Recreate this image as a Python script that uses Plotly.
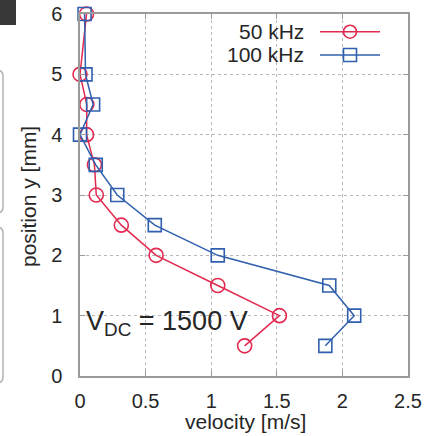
import plotly.graph_objects as go

# ---- data ----
position_mm = [6, 5, 4.5, 4, 3.5, 3, 2.5, 2, 1.5, 1, 0.5]
vel_50khz = [0.05, 0.0, 0.052, 0.05, 0.11, 0.124, 0.315, 0.58, 1.05, 1.52, 1.255]
vel_100khz = [0.035, 0.042, 0.10, 0.0, 0.12, 0.284, 0.57, 1.05, 1.90, 2.09, 1.87]
series_names = ["50 kHz", "100 kHz"]
x_ticks = [0, 0.5, 1, 1.5, 2, 2.5]
x_tick_text = ["0", "0.5", "1", "1.5", "2", "2.5"]
y_ticks = [0, 1, 2, 3, 4, 5, 6]

RED = "#e2294f"
BLUE = "#2f5fad"
TXT = "#262626"
AX = "#9a9a9a"
FONT = "Liberation Sans, Arial, sans-serif"

W, H = 430, 436
ML, MR, MT, MB = 80, 22, 14, 60
PW, PH = W - ML - MR, H - MT - MB


def px(x):
    return (x - ML) / PW


def py(y):
    return (H - MB - y) / PH


fig = go.Figure()
fig.add_trace(go.Scatter(
    x=vel_50khz, y=position_mm, name=series_names[0], mode="lines+markers",
    line=dict(color=RED, width=1.5),
    marker=dict(symbol="circle-open", size=14, color=RED, line=dict(width=1.6)),
    cliponaxis=False, showlegend=False))
fig.add_trace(go.Scatter(
    x=vel_100khz, y=position_mm, name=series_names[1], mode="lines+markers",
    line=dict(color=BLUE, width=1.5),
    marker=dict(symbol="square-open", size=13, color=BLUE, line=dict(width=1.6)),
    cliponaxis=False, showlegend=False))

axis_common = dict(
    showline=True, linecolor=AX, linewidth=1.5, mirror="ticks",
    ticks="inside", ticklen=5, tickcolor=AX, tickwidth=1,
    showgrid=True, gridcolor="#b8b8b8", griddash="dot", gridwidth=1,
    zeroline=False, tickfont=dict(family=FONT, size=20, color=TXT),
)
fig.update_xaxes(range=[0, 2.5], tickvals=x_ticks, ticktext=x_tick_text,
                 ticklabelstandoff=6, **axis_common)
fig.update_yaxes(range=[0, 6], tickvals=y_ticks, ticklabelstandoff=12,
                 **axis_common)

shapes = []
anns = []
# legend (text on the left, sample on the right)
for name, color, sym, yy in [(series_names[0], RED, "circle", 31.7),
                              (series_names[1], BLUE, "square", 55)]:
    shapes.append(dict(type="line", xref="paper", yref="paper",
                       x0=px(320), x1=px(380), y0=py(yy), y1=py(yy),
                       line=dict(color=color, width=1.5)))
    r = 6.5
    shapes.append(dict(type="circle" if sym == "circle" else "rect",
                       xref="paper", yref="paper",
                       xsizemode="pixel", ysizemode="pixel",
                       xanchor=px(350), yanchor=py(yy),
                       x0=-r, x1=r, y0=-r, y1=r,
                       line=dict(color=color, width=1.6),
                       fillcolor="rgba(0,0,0,0)"))
    anns.append(dict(text=name, xref="paper", yref="paper", x=px(306), y=py(yy),
                     xanchor="right", yanchor="middle", showarrow=False,
                     font=dict(family=FONT, size=21, color=TXT)))

# axis titles
anns.append(dict(text="velocity [m/s]", xref="paper", yref="paper",
                 x=px(245), y=py(421), xanchor="center", yanchor="middle",
                 showarrow=False, font=dict(family=FONT, size=21, color=TXT)))
anns.append(dict(text="position y [mm]", xref="paper", yref="paper",
                 x=px(28), y=py(197), xanchor="center", yanchor="middle",
                 textangle=-90, showarrow=False,
                 font=dict(family=FONT, size=21, color=TXT)))
# in-plot label
anns.append(dict(text="V<sub>DC</sub> = 1500 V", xref="paper", yref="paper",
                 x=px(84), y=py(323), xanchor="left", yanchor="middle",
                 showarrow=False, font=dict(family=FONT, size=27, color=TXT)))

# decorative page fragments at the left edge
shapes.append(dict(type="rect", xref="paper", yref="paper", layer="above",
                   x0=px(-2), x1=px(16), y0=py(-2), y1=py(25),
                   fillcolor="#383838", line=dict(width=0)))


def rrect(x0, x1, y0, y1, r):
    return (f"M {px(x0)},{py(y0)} L {px(x1 - r)},{py(y0)} "
            f"Q {px(x1)},{py(y0)} {px(x1)},{py(y0 + r)} "
            f"L {px(x1)},{py(y1 - r)} Q {px(x1)},{py(y1)} {px(x1 - r)},{py(y1)} "
            f"L {px(x0)},{py(y1)}")


for (a, b) in [(70, 213), (227, 383)]:
    shapes.append(dict(type="path", xref="paper", yref="paper",
                       path=rrect(-10, 3, a, b, 6),
                       line=dict(color="#b4b4b4", width=1.5)))

fig.update_layout(
    width=W, height=H, margin=dict(l=ML, r=MR, t=MT, b=MB, autoexpand=False),
    paper_bgcolor="white", plot_bgcolor="white",
    shapes=shapes, annotations=anns, showlegend=False,
    font=dict(family=FONT, color=TXT),
)
fig.write_html(
    "out.html",
    config={"displayModeBar": False},
    post_script="document.body.style.margin='0px';"
                "document.body.style.overflow='hidden';",
)
